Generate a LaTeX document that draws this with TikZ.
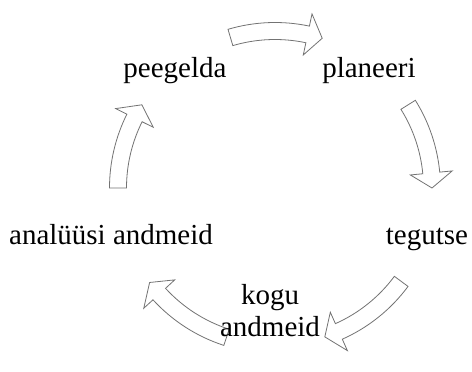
\documentclass[tikz,border=0pt]{standalone}
\usepackage{fontspec}
\setmainfont{Liberation Serif}
\tikzset{
  arrowbox/.style={draw={rgb,255:red,115;green,115;blue,115}, fill=white, line width=0.8pt, line join=miter},
  lbl/.style={font=\fontsize{29}{33}\selectfont, anchor=base, inner sep=0pt}
}
\newcommand\cyclearrow[2]{%
  \pgfmathsetmacro\ta{#1+#2}%
  \pgfmathsetmacro\ba{#1-#2+5.5}%
  \pgfmathsetmacro\pa{#1-#2}%
  \draw[arrowbox] ([shift={(\ta:148.5)}]C) arc[start angle=\ta, end angle=\ba, radius=148.5]
    -- ([shift={(\ba:136)}]C) -- ([shift={(\pa:157)}]C) -- ([shift={(\ba:178)}]C)
    -- ([shift={(\ba:165.5)}]C) arc[start angle=\ba, end angle=\ta, radius=165.5] -- cycle;
}
\begin{document}
\begin{tikzpicture}[x=1pt,y=1pt]
\useasboundingbox (0,0) rectangle (472,372);
\coordinate (C) at (275,184);
\cyclearrow{89.5}{17}
\cyclearrow{16}{16}
\cyclearrow{-54}{17.5}
\cyclearrow{-125.5}{17.5}
\cyclearrow{164}{16}
\node[lbl] (peegelda) at (175,294) {peegelda};
\node[lbl] (planeeri) at (369,294) {planeeri};
\node[lbl] (tegutse) at (427,127) {tegutse};
\node[lbl] (analuusi) at (111,127) {analüüsi andmeid};
\node[lbl] (kogu) at (270,67) {kogu};
\node[lbl] (andmeid) at (270,35) {andmeid};
\end{tikzpicture}
\end{document}
